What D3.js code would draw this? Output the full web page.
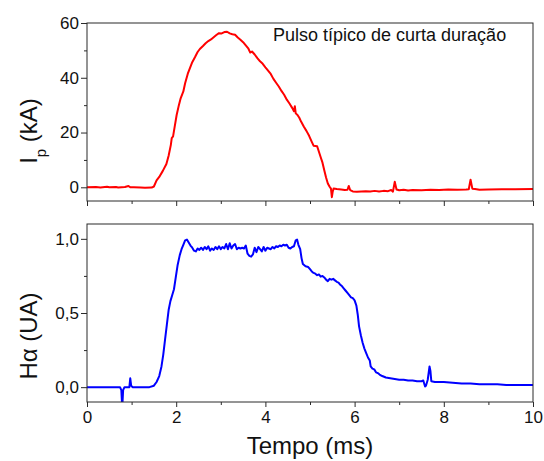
<!DOCTYPE html>
<html>
<head>
<meta charset="utf-8">
<script src="https://cdn.jsdelivr.net/npm/d3@7/dist/d3.min.js"></script>
<style>
  html, body { margin: 0; padding: 0; background: #fff; }
  svg { display: block; font-family: "Liberation Sans", Arial, sans-serif; }
</style>
</head>
<body>
<svg id="chart" width="544" height="461"></svg>
<script>
// Plasma current pulse (kA) versus time (ms)
const timeIp = [0.00,0.20,0.30,0.45,0.50,0.65,0.70,0.85,0.93,0.97,1.05,1.20,1.30,1.45,1.50,1.56,1.62,1.70,1.78,1.83,1.88,1.90,1.93,1.97,2.01,2.06,2.10,2.16,2.20,2.26,2.31,2.36,2.42,2.48,2.53,2.60,2.66,2.72,2.78,2.84,2.90,2.96,3.02,3.08,3.14,3.20,3.26,3.32,3.38,3.44,3.50,3.56,3.62,3.66,3.70,3.76,3.82,3.88,3.94,4.00,4.06,4.12,4.18,4.24,4.30,4.36,4.42,4.48,4.54,4.60,4.64,4.66,4.68,4.72,4.76,4.80,4.86,4.92,4.98,5.04,5.08,5.16,5.20,5.24,5.28,5.32,5.36,5.40,5.44,5.47,5.49,5.51,5.53,5.60,5.70,5.78,5.84,5.87,5.90,5.96,6.05,6.15,6.25,6.35,6.45,6.55,6.65,6.75,6.82,6.86,6.90,6.94,7.00,7.10,7.20,7.30,7.50,7.70,7.90,8.10,8.30,8.50,8.56,8.60,8.64,8.70,8.80,9.00,9.30,9.60,10.00];
const currentKA = [0.0,0.1,-0.1,0.2,0.0,0.1,-0.1,0.1,0.5,0.0,0.0,-0.1,-0.2,-0.1,0.3,2.5,3.8,6.0,8.5,11.5,15.5,18.0,18.6,22.5,26.4,30.0,32.5,35.0,38.0,41.5,43.6,45.7,47.5,49.4,50.5,51.6,52.6,53.4,54.0,54.8,55.6,56.3,56.2,56.7,56.8,56.2,55.9,55.7,54.7,53.9,53.0,51.8,50.6,49.2,49.6,48.5,47.2,46.0,45.1,43.8,42.6,41.4,39.6,38.2,36.8,35.2,33.8,32.0,30.6,29.0,27.8,29.6,27.0,26.4,25.4,24.0,22.2,20.6,18.8,16.6,15.2,15.0,13.0,11.0,9.0,6.2,3.6,1.4,0.2,-0.5,-3.6,-1.5,-0.4,-0.6,-0.8,-1.0,-0.9,0.5,-1.0,-1.5,-1.6,-1.5,-1.4,-1.5,-1.3,-1.5,-1.3,-1.4,-1.0,-1.6,2.0,-0.8,-1.1,-0.9,-1.2,-1.0,-1.1,-0.9,-1.0,-0.8,-0.9,-0.8,-0.7,2.8,-0.5,-0.6,-0.9,-0.8,-0.7,-0.7,-0.6];

// H-alpha emission (arbitrary units) versus time (ms)
const timeHa = [0.00,0.74,0.77,0.79,0.81,0.84,0.95,0.97,0.99,1.02,1.40,1.50,1.56,1.62,1.67,1.71,1.75,1.79,1.83,1.87,1.91,1.95,1.99,2.03,2.08,2.12,2.16,2.20,2.24,2.28,2.32,2.36,2.40,2.44,2.48,2.52,2.56,2.60,2.64,2.68,2.72,2.76,2.80,2.84,2.88,2.92,2.96,3.00,3.04,3.08,3.12,3.16,3.20,3.24,3.28,3.32,3.36,3.40,3.44,3.48,3.52,3.56,3.60,3.64,3.68,3.72,3.76,3.80,3.84,3.88,3.92,3.96,4.00,4.04,4.08,4.12,4.16,4.20,4.24,4.28,4.32,4.36,4.40,4.44,4.48,4.52,4.56,4.60,4.64,4.68,4.71,4.74,4.78,4.81,4.84,4.90,4.96,5.00,5.04,5.08,5.12,5.16,5.20,5.24,5.28,5.32,5.36,5.40,5.44,5.48,5.52,5.56,5.60,5.64,5.68,5.72,5.76,5.80,5.84,5.88,5.92,5.96,6.00,6.04,6.07,6.10,6.14,6.18,6.22,6.26,6.30,6.34,6.36,6.40,6.44,6.48,6.52,6.56,6.62,6.70,6.80,6.90,7.00,7.10,7.20,7.30,7.40,7.50,7.54,7.58,7.60,7.64,7.68,7.70,7.72,7.80,8.00,8.20,8.40,8.60,8.80,9.00,9.20,9.40,9.60,9.80,10.00];
const hAlpha = [0.0,0.0,-0.02,-0.14,-0.02,0.0,0.0,0.06,0.01,0.0,0.0,0.01,0.035,0.075,0.14,0.22,0.32,0.42,0.52,0.58,0.62,0.66,0.74,0.82,0.89,0.93,0.96,0.99,0.995,0.975,0.955,0.94,0.92,0.915,0.935,0.925,0.94,0.925,0.945,0.93,0.95,0.92,0.935,0.925,0.945,0.93,0.95,0.93,0.945,0.935,0.965,0.93,0.97,0.935,0.955,0.965,0.93,0.94,0.935,0.94,0.935,0.955,0.9,0.885,0.88,0.895,0.94,0.91,0.945,0.93,0.915,0.945,0.92,0.94,0.935,0.93,0.945,0.935,0.95,0.945,0.955,0.95,0.96,0.955,0.96,0.94,0.935,0.945,0.95,0.99,0.995,0.96,0.93,0.87,0.83,0.815,0.81,0.795,0.78,0.77,0.765,0.755,0.76,0.745,0.75,0.74,0.725,0.715,0.73,0.725,0.73,0.72,0.71,0.705,0.69,0.68,0.665,0.65,0.635,0.62,0.605,0.6,0.585,0.55,0.49,0.41,0.35,0.3,0.26,0.23,0.2,0.18,0.14,0.125,0.12,0.1,0.095,0.085,0.075,0.065,0.06,0.055,0.05,0.05,0.045,0.045,0.04,0.04,0.045,0.005,0.01,0.05,0.14,0.11,0.04,0.035,0.035,0.03,0.025,0.025,0.02,0.02,0.02,0.015,0.015,0.015,0.015];

// Axis ticks
const xMajor = [0, 2, 4, 6, 8, 10];
const xMinor = [1, 3, 5, 7, 9];
const ipMajor = [0, 20, 40, 60];
const ipMinor = [10, 30, 50];
const haMajor = [0, 0.5, 1.0];
const haMinor = [0.25, 0.75];

const svg = d3.select("#chart");
const left = 87, right = 533;
const topPanel = { y0: 23, y1: 201 };
const botPanel = { y0: 224, y1: 402 };
const frameColor = "#2a2a2a";

const x = d3.scaleLinear().domain([0, 10]).range([left, right]);
const yIp = d3.scaleLinear().domain([-5, 60]).range([topPanel.y1, topPanel.y0]);
const yHa = d3.scaleLinear().domain([-0.1, 1.1]).range([botPanel.y1, botPanel.y0]);

const commaFmt = v => d3.format(".1f")(v).replace(".", ",");

function drawPanel(id, panel, yScale, times, vals, color, yMaj, yMin, yFmt, showXLabels) {
  const g = svg.append("g");

  // clip for the trace
  svg.append("clipPath").attr("id", id)
    .append("rect")
    .attr("x", left).attr("y", panel.y0)
    .attr("width", right - left).attr("height", panel.y1 - panel.y0);

  const line = d3.line().x(d => x(d[0])).y(d => yScale(d[1]));
  g.append("path")
    .datum(times.map((t, i) => [t, vals[i]]))
    .attr("clip-path", `url(#${id})`)
    .attr("fill", "none")
    .attr("stroke", color)
    .attr("stroke-width", 2)
    .attr("stroke-linejoin", "round")
    .attr("d", line);

  // frame
  g.append("rect")
    .attr("x", left).attr("y", panel.y0)
    .attr("width", right - left).attr("height", panel.y1 - panel.y0)
    .attr("fill", "none").attr("stroke", frameColor).attr("stroke-width", 1);

  const styleAxis = sel => {
    sel.select(".domain").remove();
    sel.selectAll("line").attr("stroke", frameColor);
    sel.selectAll("text").attr("fill", "#111").style("font-size", "17px")
      .style("font-family", '"Liberation Sans", Arial, sans-serif');
  };

  // left axis
  g.append("g").attr("transform", `translate(${left},0)`)
    .call(d3.axisLeft(yScale).tickValues(yMaj).tickSize(6).tickPadding(2).tickFormat(yFmt))
    .call(styleAxis);
  g.append("g").attr("transform", `translate(${left},0)`)
    .call(d3.axisLeft(yScale).tickValues(yMin).tickSize(3).tickFormat(""))
    .call(styleAxis);

  // bottom axis
  g.append("g").attr("transform", `translate(0,${panel.y1})`)
    .call(d3.axisBottom(x).tickValues(xMajor).tickSize(5).tickPadding(4)
      .tickFormat(showXLabels ? d3.format("d") : ""))
    .call(styleAxis);
  g.append("g").attr("transform", `translate(0,${panel.y1})`)
    .call(d3.axisBottom(x).tickValues(xMinor).tickSize(3).tickFormat(""))
    .call(styleAxis);
}

drawPanel("clip-ip", topPanel, yIp, timeIp, currentKA, "#ff0000", ipMajor, ipMinor, d3.format("d"), false);
drawPanel("clip-ha", botPanel, yHa, timeHa, hAlpha, "#0000ff", haMajor, haMinor, commaFmt, true);

// annotation
svg.append("text")
  .attr("x", 273).attr("y", 41)
  .style("font-size", "18px").attr("fill", "#111")
  .text("Pulso típico de curta duração");

// axis titles
svg.append("text")
  .attr("x", (left + right) / 2).attr("y", 454)
  .attr("text-anchor", "middle")
  .style("font-size", "24px").attr("fill", "#111")
  .text("Tempo (ms)");

const ipTitle = svg.append("text")
  .attr("transform", "translate(37,131) rotate(-90)")
  .attr("text-anchor", "middle")
  .style("font-size", "24px").attr("fill", "#111");
ipTitle.append("tspan").text("I");
ipTitle.append("tspan").attr("baseline-shift", "sub").style("font-size", "15px").text("p");
ipTitle.append("tspan").text(" (kA)");

svg.append("text")
  .attr("transform", "translate(37,336) rotate(-90)")
  .attr("text-anchor", "middle")
  .style("font-size", "24px").attr("fill", "#111")
  .text("Hα (UA)");
</script>
</body>
</html>
